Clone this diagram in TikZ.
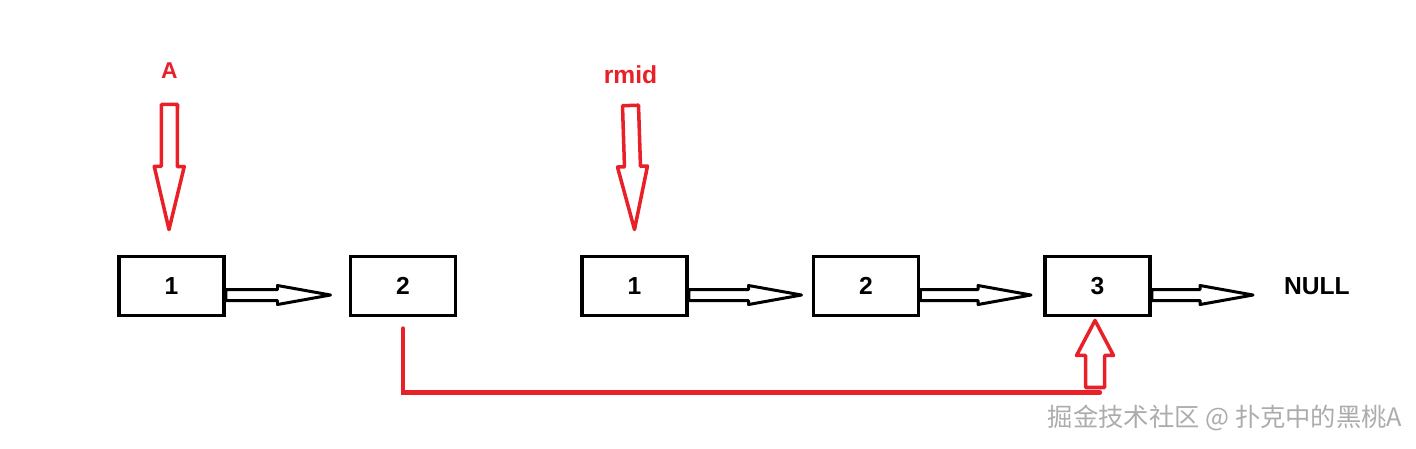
\documentclass[tikz,border=0pt]{standalone}
\usepackage{fontspec}
\newfontfamily\labfont{Liberation Sans}
\newfontfamily\cjkfont{Noto Sans CJK SC}
\usetikzlibrary{positioning,calc}
\definecolor{penred}{RGB}{232,32,40}

\begin{document}
\begin{tikzpicture}[
  x=0.01cm, y=-0.01cm,
  node distance=1.225cm,
  box/.style={draw, line width=1.1pt, minimum width=1.05cm, minimum height=0.59cm,
    inner sep=0pt, font=\labfont\bfseries\fontsize{7pt}{8pt}\selectfont},
  tag/.style={inner sep=0pt, text=penred, font=\labfont\bfseries\fontsize{7pt}{8pt}\selectfont},
  hollow/.style args={#1/#2/#3}{line join=round, to path={
    let \p1=(\tikztostart), \p2=(\tikztotarget), \p3=($(\p2)!#3!(\p1)$) in
    ($(\p1)!#1!90:(\p2)$) -- ($(\p3)!#1!-90:(\p1)$) -- ($(\p3)!#2!-90:(\p1)$)
    -- (\p2) -- ($(\p3)!#2!90:(\p1)$) -- ($(\p3)!#1!90:(\p1)$)
    -- ($(\p1)!#1!-90:(\p2)$) -- cycle}},
  link/.style={hollow=0.055cm/0.095cm/0.53cm, line width=0.85pt},
  ptr/.style={hollow=0.08cm/0.15cm/0.63cm, draw=penred, line width=1pt}
]
  \useasboundingbox (0,0) rectangle (1416,448);

  % first list
  \node[box] (a1) at (171.5,286) {1};
  \node[box, right=of a1] (a2) {2};
  % second list
  \node[box, right=of a2] (b1) {1};
  \node[box, right=of b1] (b2) {2};
  \node[box, right=of b2] (b3) {3};
  \node[box, draw=none, minimum width=0pt, right=1.3cm of b3] (null) {NULL};

  \node[tag, font=\labfont\bfseries\fontsize{6.5pt}{7pt}\selectfont, above=1.75cm of a1, xshift=-0.02cm] (ta) {A};
  \node[tag, above=1.7cm of b1, xshift=-0.04cm] (tr) {rmid};

  \draw[link] ([yshift=-0.09cm]a1.east) to ([xshift=-0.18cm,yshift=-0.09cm]a2.west);
  \draw[link] ([yshift=-0.09cm]b1.east) to ([xshift=-0.1cm,yshift=-0.09cm]b2.west);
  \draw[link] ([yshift=-0.09cm]b2.east) to ([xshift=-0.12cm,yshift=-0.09cm]b3.west);
  \draw[link] ([yshift=-0.09cm]b3.east) to ([xshift=-0.29cm,yshift=-0.09cm]null.west);

  \draw[ptr] ([yshift=-0.25cm]ta.south) to ([xshift=-0.025cm,yshift=0.25cm]a1.north);
  \draw[ptr] ([yshift=-0.21cm]tr.south) to ([yshift=0.25cm]b1.north);

  % a2 now points at b3
  \coordinate[below=0.75cm of b3, xshift=-0.025cm] (rb);
  \draw[penred, line width=1.2pt, line cap=round] ([yshift=-0.11cm]a2.south) |- ([xshift=0.05cm]rb);
  \draw[hollow=0.095cm/0.185cm/0.35cm, draw=penred, line width=1pt]
    ([yshift=0.05cm]rb) to ([xshift=-0.025cm,yshift=-0.03cm]b3.south);

  \node[anchor=east, inner sep=0pt, text=gray!65, font=\cjkfont\fontsize{7.2pt}{8pt}\selectfont] (mark) at (1403,418) {掘金技术社区 @ 扑克中的黑桃A};
\end{tikzpicture}
\end{document}
